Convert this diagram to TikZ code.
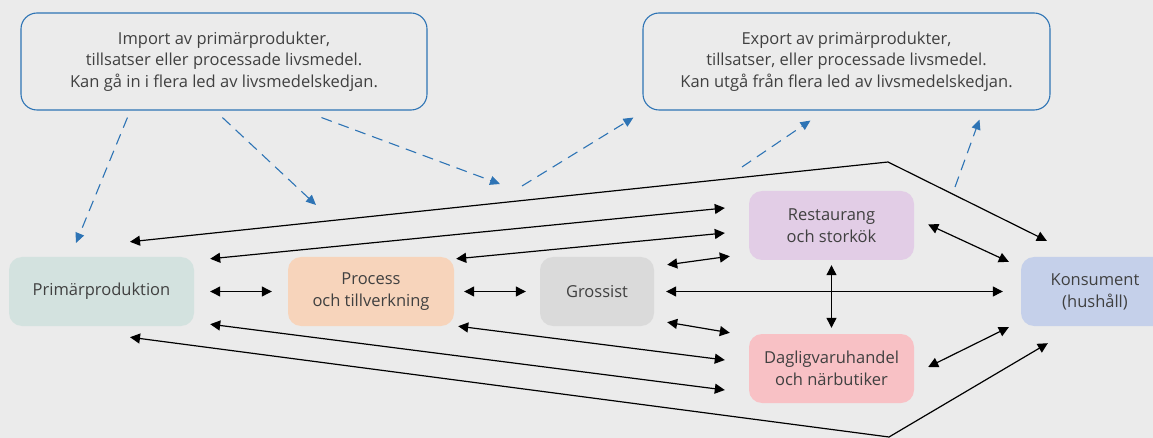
\documentclass[tikz,border=0pt]{standalone}
\usepackage{fontspec}
\setmainfont{Open Sans}
\usetikzlibrary{arrows.meta,calc}
\definecolor{bg}{HTML}{EBEBEB}
\definecolor{txt}{HTML}{404040}
\definecolor{frame}{HTML}{2E74B5}
\definecolor{cprim}{HTML}{D3E2DF}
\definecolor{cproc}{HTML}{F7D4BB}
\definecolor{cgros}{HTML}{DADADA}
\definecolor{crest}{HTML}{E2CDE6}
\definecolor{cdagl}{HTML}{F8C1C5}
\definecolor{ckons}{HTML}{C5D0EA}
\tikzset{
  infobox/.style={draw=frame, line width=1.1pt, rounded corners=16pt,
    minimum width=#1, minimum height=97pt, align=center, text=txt,
    font=\fontsize{16.5}{21.5}\selectfont},
  stage/.style={fill=#1, draw=none, rounded corners=13pt,
    minimum height=69pt, align=center, text=txt,
    font=\fontsize{16.5}{22}\selectfont},
  flow/.style={line width=1.2pt, black, {Triangle[length=10pt,width=10pt]}-{Triangle[length=10pt,width=10pt]}},
  trade/.style={line width=1.1pt, frame, dash pattern=on 11pt off 7pt,
    -{Triangle[length=10pt,width=9pt]}},
}
\begin{document}
\begin{tikzpicture}[x=1pt,y=-1pt]
  \fill[bg] (0,0) rectangle (1153,438);
  \useasboundingbox (0,0) rectangle (1153,438);
  \clip (0,0) rectangle (1153,438);

  % import / export frames
  \node[infobox=406pt] (imp) at (224,61.5)
    {Import av primärprodukter,\\tillsatser eller processade livsmedel.\\Kan gå in i flera led av livsmedelskedjan.};
  \node[infobox=407pt] (exp) at (846.5,61.5)
    {Export av primärprodukter,\\tillsatser, eller processade livsmedel.\\Kan utgå från flera led av livsmedelskedjan.};

  % stages of the food chain
  \node[stage=cprim, minimum width=185pt] (prim) at (101.5,291.5) {Primärproduktion};
  \node[stage=cproc, minimum width=166pt] (proc) at (371,291.5) {Process\\och tillverkning};
  \node[stage=cgros, minimum width=114pt] (gros) at (597,291.5) {Grossist};
  \node[stage=crest, minimum width=165pt] (rest) at (831.5,225.5) {Restaurang\\och storkök};
  \node[stage=cdagl, minimum width=165pt] (dagl) at (831.5,368.5) {Dagligvaruhandel\\och närbutiker};
  \node[stage=ckons, minimum width=148pt] (kons) at (1095,291.5) {Konsument\\(hushåll)};

  % bends of the two long routes
  \coordinate (topbend) at (888,162);
  \coordinate (botbend) at (889,437);

  % flows between stages
  \draw[flow, shorten <=16pt, shorten >=16pt] (prim.east) -- (proc.west);
  \draw[flow, shorten <=10pt, shorten >=14pt] (proc.east) -- (gros.west);
  \draw[flow, shorten <=12pt, shorten >=18pt] (gros.east) -- (kons.west);
  \draw[flow, shorten <=5pt, shorten >=6pt] (rest.south) -- (dagl.north);

  \draw[flow] ($(prim.north)+(28.5,-15)$) -- (topbend) -- ($(kons.north west)+(26,-16)$);
  \draw[flow] ($(prim.south)+(28.5,11)$) -- (botbend) -- ($(kons.south west)+(27,17)$);

  \draw[flow] ($(prim.north east)+(16,2)$) -- ($(rest.west)+(-24,-17.5)$);
  \draw[flow] ($(proc.north east)+(2,2)$) -- ($(rest.west)+(-24,7.5)$);
  \draw[flow] ($(gros.north east)+(13,8)$) -- ($(rest.south west)+(-19,-4)$);
  \draw[flow] ($(gros.south east)+(13,-4)$) -- ($(dagl.north west)+(-19,-1)$);
  \draw[flow] ($(proc.south east)+(4,0)$) -- ($(dagl.west)+(-24,-8.5)$);
  \draw[flow] ($(prim.south east)+(16,-2)$) -- ($(dagl.west)+(-24,21.5)$);
  \draw[flow] ($(rest.east)+(14,-1)$) -- ($(kons.north west)+(-12,5)$);
  \draw[flow] ($(dagl.east)+(14,-1.5)$) -- ($(kons.south west)+(-12,1)$);

  % trade arrows (import in, export out)
  \coordinate (i1) at (76,243);
  \coordinate (i2) at (316,205);
  \coordinate (i3) at (500,184);
  \coordinate (e1) at (522,186);
  \coordinate (e2) at (742,167);
  \coordinate (e3) at (955,187);
  \draw[trade] ($(imp.south west)+(107,7)$) -- (i1);
  \draw[trade] ($(imp.south west)+(202,7)$) -- (i2);
  \draw[trade] ($(imp.south west)+(301,7)$) -- (i3);
  \draw[trade] (e1) -- ($(exp.south west)+(-9,7)$);
  \draw[trade] (e2) -- ($(exp.south west)+(168,10)$);
  \draw[trade] (e3) -- ($(exp.south west)+(337,9)$);
\end{tikzpicture}
\end{document}
